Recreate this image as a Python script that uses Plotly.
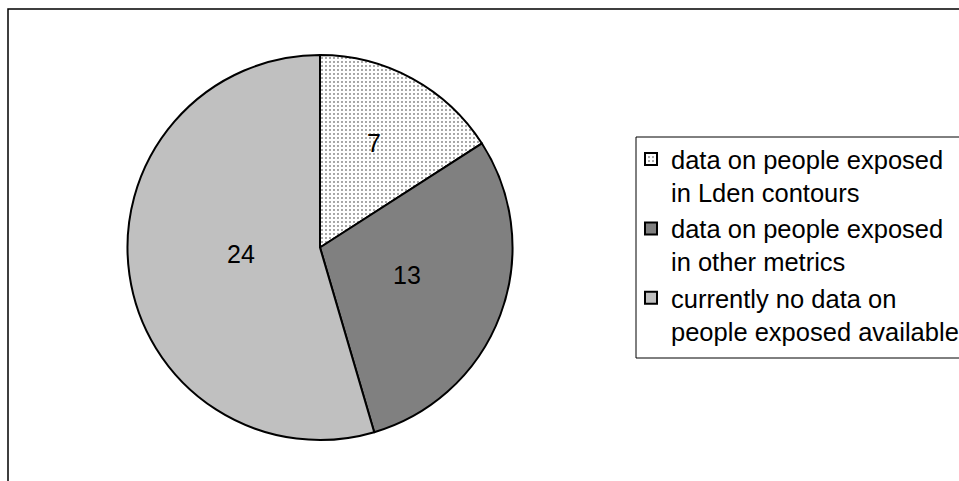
import math
import plotly.graph_objects as go

W, H = 959, 481

categories = [
    "data on people exposed<br>in Lden contours",
    "data on people exposed<br>in other metrics",
    "currently no data on<br>people exposed available",
]
values = [7, 13, 24]
fill_colors = ["#ffffff", "#808080", "#c0c0c0"]
patterns = [".", "", ""]

# radial position of each value label, as a fraction of the pie radius
label_radius = [0.59, 0.485, 0.415]

FONT = "Liberation Sans, Arial, sans-serif"

# pie geometry in pixels
CX, CY, R = 320.0, 247.5, 192.5


def px_x(x):
    return x / W


def px_y(y):
    return 1 - y / H


fig = go.Figure(
    go.Pie(
        labels=categories,
        values=values,
        sort=False,
        direction="clockwise",
        rotation=0,
        marker=dict(
            colors=fill_colors,
            line=dict(color="#000000", width=2),
            pattern=dict(
                shape=patterns,
                fgcolor="#000000",
                bgcolor=fill_colors,
                size=4,
                solidity=0.08,
            ),
        ),
        textinfo="none",
        domain=dict(x=[px_x(CX - R), px_x(CX + R)],
                    y=[px_y(CY + R), px_y(CY - R)]),
        hoverinfo="label+value",
    )
)

# value labels placed on each slice's bisector
total = sum(values)
annotations = []
cum = 0
for v, frac in zip(values, label_radius):
    mid = (cum + v / 2) / total * 2 * math.pi
    cum += v
    lx = CX + frac * R * math.sin(mid)
    ly = CY - frac * R * math.cos(mid)
    annotations.append(dict(
        x=px_x(lx), y=px_y(ly), xref="paper", yref="paper",
        text=str(v), showarrow=False, xanchor="center", yanchor="middle",
        yshift=5,
        font=dict(family=FONT, size=25, color="#000000"),
    ))

fig.update_layout(
    width=W,
    height=H,
    autosize=False,
    margin=dict(l=0, r=0, t=0, b=0, autoexpand=False),
    paper_bgcolor="#ffffff",
    plot_bgcolor="#ffffff",
    showlegend=True,
    legend=dict(
        x=px_x(631),
        y=px_y(136),
        xanchor="left",
        yanchor="top",
        bgcolor="rgba(0,0,0,0)",
        borderwidth=0,
        valign="top",
        font=dict(family=FONT, size=25.5, color="#000000"),
    ),
    annotations=annotations,
    shapes=[
        # outer chart frame
        dict(type="rect", xref="paper", yref="paper",
             x0=px_x(8), y0=px_y(9), x1=px_x(975), y1=px_y(495),
             line=dict(color="#000000", width=1.5), fillcolor="rgba(0,0,0,0)",
             layer="below"),
        # legend frame
        dict(type="rect", xref="paper", yref="paper",
             x0=px_x(636), y0=px_y(137), x1=px_x(975), y1=px_y(358),
             line=dict(color="#000000", width=1), fillcolor="rgba(0,0,0,0)",
             layer="below"),
    ],
)

fig.write_html("out.html")
